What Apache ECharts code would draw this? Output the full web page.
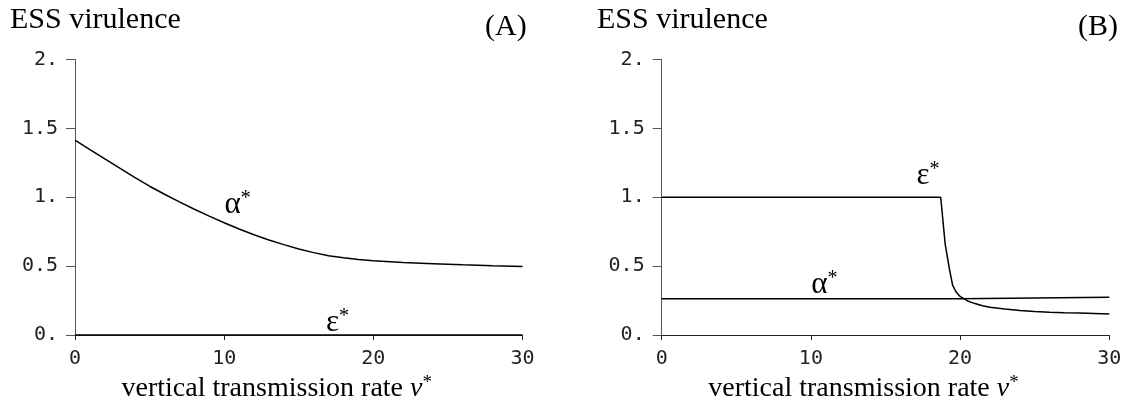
<!DOCTYPE html>
<html>
<head>
<meta charset="utf-8">
<script src="https://cdn.jsdelivr.net/npm/echarts@6/dist/echarts.min.js"></script>
<style>
html,body{margin:0;padding:0;background:#fff;}
#chart{width:1126px;height:412px;}
</style>
</head>
<body>
<div id="chart"></div>
<script>
// ---- data ----
const panelTitles = ['(A)', '(B)'];
const yTitle = 'ESS virulence';
const xTitle = 'vertical transmission rate ';
const xTicks = [0, 10, 20, 30];
const yTickLabels = ['0.', '0.5', '1.', '1.5', '2.'];

// Panel A
const aV      = [0, 1, 2, 3, 4, 5, 6, 7, 8, 9, 10, 11, 12, 13, 14, 15, 16, 17, 18, 19, 20, 22, 24, 26, 28, 30];
const aAlpha  = [1.415, 1.346, 1.278, 1.211, 1.145, 1.080, 1.022, 0.966, 0.913, 0.863, 0.815, 0.770, 0.728, 0.690, 0.656, 0.625, 0.598, 0.576, 0.560, 0.548, 0.539, 0.527, 0.518, 0.510, 0.503, 0.497];
const aEpsV   = [0, 30];
const aEps    = [0, 0];

// Panel B
const bAlphaV = [0, 5, 10, 15, 20, 25, 30];
const bAlpha  = [0.264, 0.264, 0.264, 0.264, 0.264, 0.269, 0.274];
const bEpsV   = [0, 5, 10, 15, 18.7, 19.0, 19.3, 19.5, 19.75, 20, 20.5, 21, 21.5, 22, 23, 24, 25, 26, 27, 28, 29, 30];
const bEps    = [1, 1, 1, 1, 1, 0.66, 0.47, 0.36, 0.31, 0.28, 0.247, 0.228, 0.213, 0.202, 0.188, 0.178, 0.171, 0.166, 0.162, 0.159, 0.156, 0.153];

// curve labels: [panel, text key, v, value]
const curveLabels = [
  [0, 'alpha', 10.9, 0.944],
  [0, 'eps', 17.6, 0.087],
  [1, 'eps', 17.85, 1.154],
  [1, 'alpha', 10.9, 0.363]
];

// ---- chart ----
const chart = echarts.init(document.getElementById('chart'), null, {renderer: 'canvas'});
const serif = 'Liberation Serif';
const mono = 'DejaVu Sans Mono';
const grids = [
  {left: 75, width: 447.5, top: 59.5, height: 275.5},
  {left: 661.7, width: 447.6, top: 59.5, height: 275.5}
];
const pairs = (xs, ys) => xs.map((x, i) => [x, ys[i]]);
const greek = {alpha: 'α', eps: 'ε'};

function xAxis(i) {
  return {
    gridIndex: i, type: 'value', min: 0, max: 30, interval: 10,
    name: xTitle + '{i|v}{s|*}', nameLocation: 'middle', nameGap: 38,
    nameTextStyle: {
      fontFamily: serif, fontSize: 28, color: '#000', padding: [0, 44, 0, 0],
      rich: {
        i: {fontFamily: serif, fontStyle: 'italic', fontSize: 28, color: '#000'},
        s: {fontFamily: serif, fontSize: 19, color: '#000', verticalAlign: 'top', padding: [0, 0, 10, 0]}
      }
    },
    axisLine: {show: true, onZero: false, lineStyle: {color: '#222', width: 1}},
    axisTick: {show: true, length: 5, lineStyle: {color: '#222'}},
    axisLabel: {fontFamily: mono, fontSize: 20, color: '#222', margin: 14,
      customValues: xTicks},
    splitLine: {show: false}
  };
}
function yAxis(i) {
  return {
    gridIndex: i, type: 'value', min: 0, max: 2, interval: 0.5,
    axisLine: {show: true, onZero: false, lineStyle: {color: '#555', width: 1}},
    axisTick: {show: true, length: 9, lineStyle: {color: '#555'}},
    axisLabel: {fontFamily: mono, fontSize: 20, color: '#222', margin: 17,
      formatter: v => yTickLabels[Math.round(v / 0.5)]},
    splitLine: {show: false}
  };
}
function line(i, data, labels) {
  return {
    type: 'line', xAxisIndex: i, yAxisIndex: i, data: data,
    showSymbol: false, smooth: false, silent: true,
    lineStyle: {color: '#000', width: 1.5},
    markPoint: {
      symbol: 'circle', symbolSize: 1, itemStyle: {color: 'rgba(0,0,0,0)'},
      silent: true,
      data: labels.map(l => ({
        coord: [l[2], l[3]],
        label: {
          show: true, position: 'inside',
          formatter: '{g|' + greek[l[1]] + '}{s|*}',
          rich: {
            g: {fontFamily: serif, fontSize: 31, color: '#000'},
            s: {fontFamily: serif, fontSize: 20, color: '#000', verticalAlign: 'top', padding: [0, 0, 12, 0]}
          }
        }
      }))
    }
  };
}
const lbl = (p, k) => curveLabels.filter(l => l[0] === p && l[1] === k);
const tStyle = {fontFamily: serif, fontSize: 30, fontWeight: 'normal', color: '#000'};

const option = {
  animation: false,
  backgroundColor: '#fff',
  title: [
    {text: yTitle, left: 10, top: 5, padding: 0, textStyle: tStyle},
    {text: panelTitles[0], left: 485, top: 12, padding: 0, textStyle: tStyle},
    {text: yTitle, left: 597, top: 5, padding: 0, textStyle: tStyle},
    {text: panelTitles[1], right: 8, top: 12, padding: 0, textStyle: tStyle}
  ],
  grid: grids,
  xAxis: [xAxis(0), xAxis(1)],
  yAxis: [yAxis(0), yAxis(1)],
  series: [
    line(0, pairs(aV, aAlpha), lbl(0, 'alpha')),
    line(0, pairs(aEpsV, aEps), lbl(0, 'eps')),
    line(1, pairs(bEpsV, bEps), lbl(1, 'eps')),
    line(1, pairs(bAlphaV, bAlpha), lbl(1, 'alpha'))
  ]
};
chart.setOption(option);
</script>
</body>
</html>
